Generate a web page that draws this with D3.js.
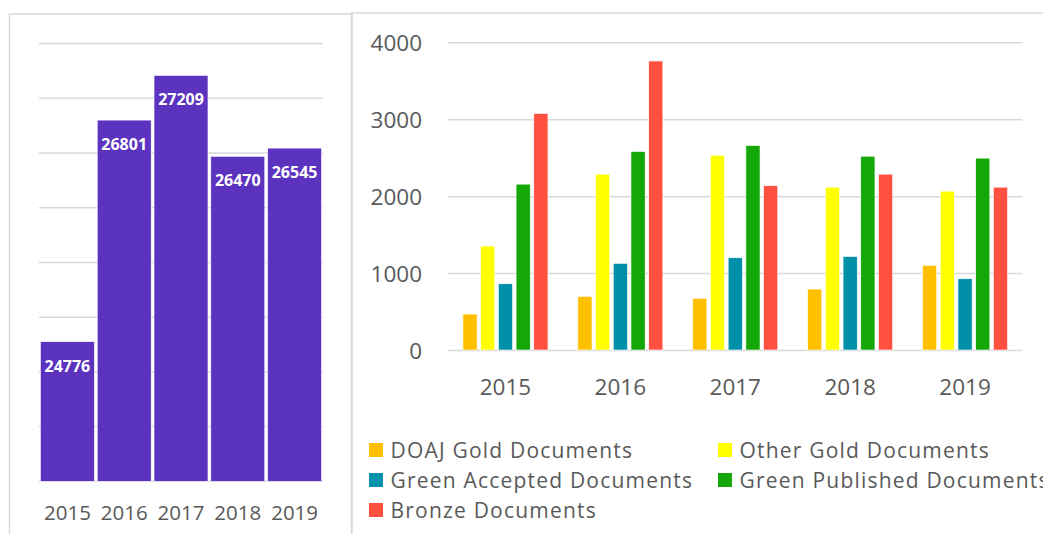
<!DOCTYPE html>
<html>
<head>
<meta charset="utf-8">
<script src="https://cdn.jsdelivr.net/npm/d3@7"></script>
<style>
  html, body { margin: 0; padding: 0; background: #ffffff; }
  svg { display: block; font-family: "Open Sans", "Noto Sans", sans-serif; }
</style>
</head>
<body>
<svg id="chart" width="1043" height="534"></svg>
<script>
// ---- Data ----
const years = ["2015", "2016", "2017", "2018", "2019"];
const totalDocuments = [24776, 26801, 27209, 26470, 26545];

const seriesNames = ["DOAJ Gold Documents", "Other Gold Documents", "Green Accepted Documents", "Green Published Documents", "Bronze Documents"];
const seriesColors = ["#FFC000", "#FFFF00", "#0090A8", "#13A807", "#FF5040"];
const doajGold = [467, 697, 671, 792, 1100];
const otherGold = [1351, 2286, 2532, 2117, 2065];
const greenAccepted = [861, 1126, 1199, 1216, 926];
const greenPublished = [2156, 2580, 2658, 2519, 2494];
const bronze = [3074, 3757, 2136, 2286, 2117];
const seriesValues = [doajGold, otherGold, greenAccepted, greenPublished, bronze];

const leftTicks = [23500, 24000, 24500, 25000, 25500, 26000, 26500, 27000, 27500];
const rightTicks = [0, 1000, 2000, 3000, 4000];

const svg = d3.select("#chart");
const gridColor = "#D9D9D9";
const textColor = "#595959";

// ---- Chart frames ----
svg.append("rect").attr("x", 9.5).attr("y", 14).attr("width", 342).attr("height", 560)
  .attr("fill", "none").attr("stroke", gridColor).attr("stroke-width", 1.5);
svg.append("rect").attr("x", 352).attr("y", 13).attr("width", 720).attr("height", 560)
  .attr("fill", "none").attr("stroke", gridColor).attr("stroke-width", 1.5);

// ---- Left chart ----
const lx = d3.scaleBand().domain(years).range([39, 323]).paddingInner(0.05).paddingOuter(0.025);
const ly = d3.scaleLinear().domain([23500, 27500]).range([481.3, 43.6]);

const lg = svg.append("g");
lg.selectAll("line.grid").data(leftTicks).join("line")
  .attr("x1", 39).attr("x2", 323)
  .attr("y1", d => ly(d)).attr("y2", d => ly(d))
  .attr("stroke", gridColor).attr("stroke-width", 1.5);

lg.selectAll("rect.bar").data(years).join("rect")
  .attr("x", d => lx(d))
  .attr("y", (d, i) => ly(totalDocuments[i]))
  .attr("width", lx.bandwidth())
  .attr("height", (d, i) => ly(23500) - ly(totalDocuments[i]))
  .attr("fill", "#5C33BE").attr("stroke", "#ffffff").attr("stroke-width", 0.6);

lg.selectAll("text.val").data(years).join("text")
  .attr("x", d => lx(d) + lx.bandwidth() / 2)
  .attr("y", (d, i) => ly(totalDocuments[i]) + 30)
  .attr("text-anchor", "middle").attr("fill", "#ffffff")
  .attr("font-weight", "bold").attr("font-size", 16)
  .text((d, i) => totalDocuments[i]);

const lxAxis = d3.axisBottom(lx).tickSize(0).tickPadding(0);
const lxg = svg.append("g").attr("transform", "translate(0,481.3)").call(lxAxis)
  .attr("font-family", null).attr("font-size", null);
lxg.select(".domain").remove();
lxg.selectAll("text").attr("dy", null).attr("y", 39).attr("fill", textColor)
  .attr("font-size", 20.5);

// ---- Right chart ----
const x0 = d3.scaleBand().domain(years).range([448, 1022.5]).paddingInner(0.26).paddingOuter(0.13);
const x1 = d3.scaleBand().domain(seriesNames).range([0, x0.bandwidth()]).paddingInner(0.2);
const ry = d3.scaleLinear().domain([0, 4000]).range([350, 42.3]);

const ryAxis = d3.axisLeft(ry).tickValues(rightTicks).tickSize(-(1022.5 - 448)).tickPadding(26).tickFormat(d3.format("d"));
const ryg = svg.append("g").attr("transform", "translate(448,0)").call(ryAxis)
  .attr("font-family", null).attr("font-size", null);
ryg.select(".domain").remove();
ryg.selectAll(".tick line").attr("stroke", gridColor).attr("stroke-width", 1.5);
ryg.selectAll(".tick text").attr("fill", textColor).attr("font-size", 22.5).attr("dy", "0.36em");

const groups = svg.append("g").selectAll("g").data(years).join("g")
  .attr("transform", d => `translate(${x0(d)},0)`);
groups.selectAll("rect").data((d, i) => seriesNames.map((s, k) => ({ s, k, v: seriesValues[k][i] }))).join("rect")
  .attr("x", d => x1(d.s))
  .attr("y", d => ry(d.v))
  .attr("width", x1.bandwidth())
  .attr("height", d => ry(0) - ry(d.v))
  .attr("fill", d => seriesColors[d.k]).attr("stroke", "#ffffff").attr("stroke-width", 0.6);

const rxAxis = d3.axisBottom(x0).tickSize(0).tickPadding(0);
const rxg = svg.append("g").attr("transform", "translate(0,350)").call(rxAxis)
  .attr("font-family", null).attr("font-size", null);
rxg.select(".domain").remove();
rxg.selectAll("text").attr("dy", null).attr("y", 44.5).attr("fill", textColor)
  .attr("font-size", 22.5);

// ---- Legend ----
const legendPos = [[369, 450], [718, 450], [369, 480], [718, 480], [369, 510]];
const legend = svg.append("g").selectAll("g").data(seriesNames).join("g")
  .attr("transform", (d, i) => `translate(${legendPos[i][0]},${legendPos[i][1]})`);
legend.append("rect").attr("x", 0).attr("y", -7).attr("width", 14).attr("height", 14)
  .attr("fill", (d, i) => seriesColors[i]);
legend.append("text").attr("x", 21.5).attr("y", 7.5).attr("fill", textColor)
  .attr("font-size", 21).attr("letter-spacing", 1.2).text(d => d);
</script>
</body>
</html>
